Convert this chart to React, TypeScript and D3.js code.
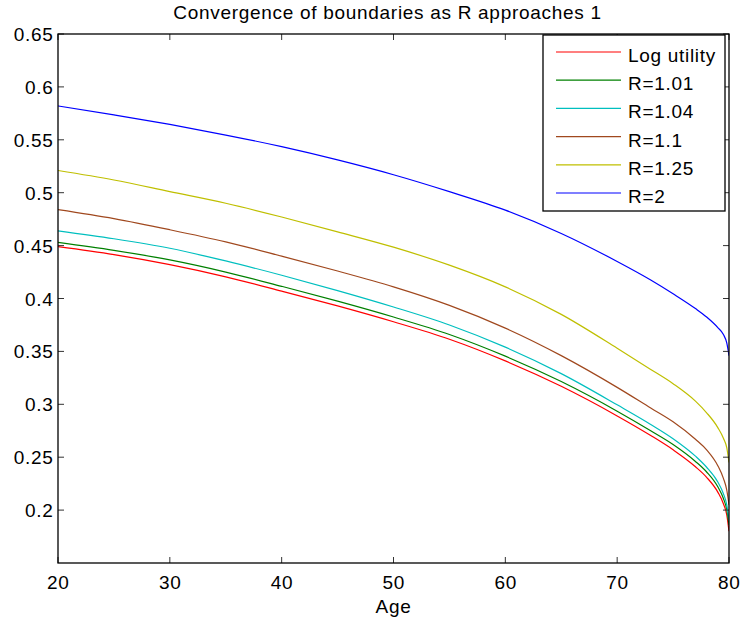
import React from "react";
import * as d3 from "d3";

const ages = [20, 25, 30, 35, 40, 45, 50, 55, 60, 65, 70, 73, 75, 77, 78, 79, 79.5, 79.8, 80];
const logUtility = [0.449, 0.4415, 0.432, 0.4205, 0.407, 0.393, 0.378, 0.3615, 0.341, 0.317, 0.289, 0.2705, 0.257, 0.241, 0.231, 0.217, 0.206, 0.1955, 0.18];
const r101 = [0.453, 0.4455, 0.4365, 0.425, 0.4115, 0.3975, 0.3825, 0.366, 0.3455, 0.3215, 0.2935, 0.275, 0.262, 0.246, 0.236, 0.222, 0.211, 0.2005, 0.186];
const r104 = [0.464, 0.4565, 0.4475, 0.4355, 0.422, 0.4075, 0.392, 0.375, 0.354, 0.329, 0.2995, 0.281, 0.2675, 0.251, 0.2405, 0.2265, 0.2155, 0.205, 0.19];
const r11 = [0.484, 0.4755, 0.465, 0.4535, 0.44, 0.426, 0.411, 0.3935, 0.372, 0.346, 0.316, 0.2965, 0.2835, 0.267, 0.257, 0.242, 0.23, 0.219, 0.205];
const r125 = [0.521, 0.512, 0.501, 0.49, 0.477, 0.463, 0.4485, 0.4315, 0.411, 0.385, 0.353, 0.333, 0.3195, 0.303, 0.292, 0.278, 0.268, 0.259, 0.245];
const r2 = [0.582, 0.5735, 0.5645, 0.5545, 0.5435, 0.531, 0.517, 0.501, 0.4835, 0.4615, 0.435, 0.4175, 0.4045, 0.3905, 0.3825, 0.3725, 0.366, 0.358, 0.346];

const seriesNames = ["Log utility", "R=1.01", "R=1.04", "R=1.1", "R=1.25", "R=2"];
const seriesValues = [logUtility, r101, r104, r11, r125, r2];
const seriesColors = ["#ff0000", "#008000", "#00bfbf", "#a0481e", "#bfbf00", "#0000ff"];

const xTicks = [20, 30, 40, 50, 60, 70, 80];
const yTicks = [0.2, 0.25, 0.3, 0.35, 0.4, 0.45, 0.5, 0.55, 0.6, 0.65];
const yTickLabels = ["0.2", "0.25", "0.3", "0.35", "0.4", "0.45", "0.5", "0.55", "0.6", "0.65"];

const title = "Convergence of boundaries as R approaches 1";
const xLabel = "Age";

export default function App() {
  const W = 741, H = 627;
  const L = 58, R = 729, T = 34, B = 563;
  const x = d3.scaleLinear().domain([20, 80]).range([L, R]);
  const y = d3.scaleLinear().domain([0.15, 0.65]).range([B, T]);
  const font = "'Liberation Sans', Arial, sans-serif";
  const fs = 19;
  const ls = 0.7;
  const line = d3
    .line<number>()
    .x((_, i) => x(ages[i]))
    .y((d) => y(d))
    .curve(d3.curveMonotoneX);
  const tick = 6;
  const legX = 543, legY = 35, legW = 182, legH = 176;
  const rowY0 = 52, rowH = 28.2;

  return (
    <svg width={W} height={H} style={{ position: "absolute", left: 0, top: 0, background: "#fff" }} fontFamily={font}>
      <rect x={0} y={0} width={W} height={H} fill="#fff" />
      <defs>
        <clipPath id="plotclip">
          <rect x={L} y={T} width={R - L} height={B - T} />
        </clipPath>
      </defs>
      <g clipPath="url(#plotclip)">
        {seriesValues.map((vals, i) => (
          <path key={i} d={line(vals) || ""} fill="none" stroke={seriesColors[i]} strokeWidth={1.2} />
        ))}
      </g>
      {xTicks.map((t) => (
        <g key={"x" + t}>
          <line x1={x(t)} x2={x(t)} y1={B} y2={B - tick} stroke="#333" strokeWidth={1} />
          <line x1={x(t)} x2={x(t)} y1={T} y2={T + tick} stroke="#333" strokeWidth={1} />
          <text x={x(t) + ls / 2} y={589} textAnchor="middle" fontSize={fs} letterSpacing={ls} fill="#000">
            {t}
          </text>
        </g>
      ))}
      {yTicks.map((t, i) => (
        <g key={"y" + t}>
          <line x1={L} x2={L + tick} y1={y(t)} y2={y(t)} stroke="#333" strokeWidth={1} />
          <line x1={R} x2={R - tick} y1={y(t)} y2={y(t)} stroke="#333" strokeWidth={1} />
          <text x={53.5} y={y(t) + 7} textAnchor="end" fontSize={fs} letterSpacing={ls} fill="#000">
            {yTickLabels[i]}
          </text>
        </g>
      ))}
      <rect x={L} y={T} width={R - L} height={B - T} fill="none" stroke="#000" strokeWidth={1.3} />
      <rect x={legX} y={legY} width={legW} height={legH} fill="#fff" stroke="#000" strokeWidth={1.3} />
      {seriesNames.map((n, i) => (
        <g key={n}>
          <line x1={556} x2={621} y1={rowY0 + i * rowH} y2={rowY0 + i * rowH} stroke={seriesColors[i]} strokeWidth={1.2} />
          <text x={628} y={rowY0 + i * rowH + 10} fontSize={fs} letterSpacing={ls} fill="#000">
            {n}
          </text>
        </g>
      ))}
      <text x={(L + R) / 2 - 6} y={19} textAnchor="middle" fontSize={fs} letterSpacing={ls} fill="#000">
        {title}
      </text>
      <text x={(L + R) / 2} y={613} textAnchor="middle" fontSize={fs} letterSpacing={ls} fill="#000">
        {xLabel}
      </text>
    </svg>
  );
}
